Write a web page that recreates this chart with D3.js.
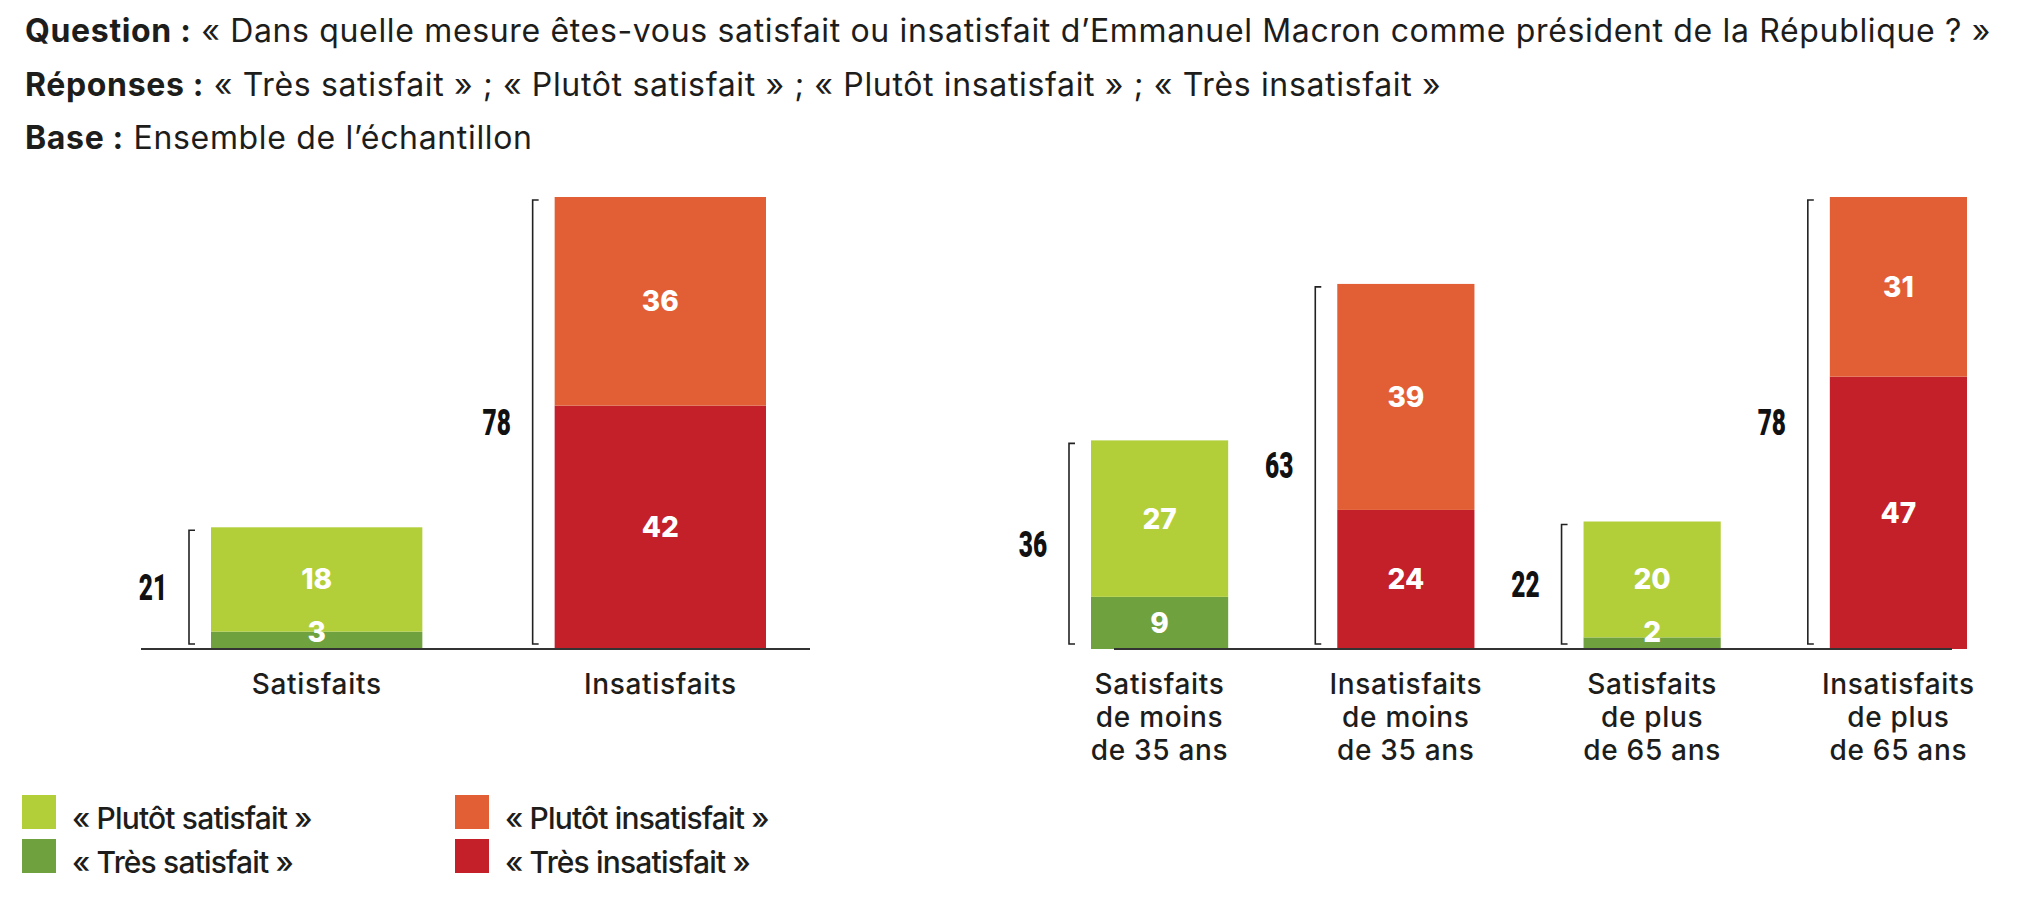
<!DOCTYPE html>
<html>
<head>
<meta charset="utf-8">
<script src="https://cdn.jsdelivr.net/npm/d3@7"></script>
<style>
  body { margin: 0; background: #fff; }
  svg { display: block; font-family: Inter, 'Open Sans', sans-serif; }
</style>
</head>
<body>
<svg width="2038" height="898"></svg>
<script>
'use strict'

// title lines: [bold part, regular part]
const titleLines = [
  ['Question :', ' « Dans quelle mesure êtes-vous satisfait ou insatisfait d’Emmanuel Macron comme président de la République ? »'],
  ['Réponses :', ' « Très satisfait » ; « Plutôt satisfait » ; « Plutôt insatisfait » ; « Très insatisfait »'],
  ['Base :', ' Ensemble de l’échantillon']
]

// left panel
const leftCats = ['Satisfaits', 'Insatisfaits']
const leftTres = [3, 42]
const leftPlutot = [18, 36]
const leftTotal = [21, 78]
const leftKind = ['sat', 'insat']

// right panel
const rightCats = [
  ['Satisfaits', 'de moins', 'de 35 ans'],
  ['Insatisfaits', 'de moins', 'de 35 ans'],
  ['Satisfaits', 'de plus', 'de 65 ans'],
  ['Insatisfaits', 'de plus', 'de 65 ans']
]
const rightTres = [9, 24, 2, 47]
const rightPlutot = [27, 39, 20, 31]
const rightTotal = [36, 63, 22, 78]
const rightKind = ['sat', 'insat', 'sat', 'insat']

const legendLabels = ['« Plutôt satisfait »', '« Très satisfait »', '« Plutôt insatisfait »', '« Très insatisfait »']

const colors = {
  sat: { tres: '#6fa13f', plutot: '#b2cf3a' },
  insat: { tres: '#c4202a', plutot: '#e25f36' }
}
const legendColors = ['#b2cf3a', '#6fa13f', '#e25f36', '#c4202a']

const svg = d3.select('svg')
const ink = '#1d1d1b'

// fit letter-spacing so a text element reaches a target width
function fitWidth(sel, target) {
  const node = sel.node()
  const w = node.getComputedTextLength()
  const n = node.textContent.length
  const ls = (target - w) / n
  sel.attr('letter-spacing', ls)
  return ls
}

// ---- title
const title = svg.append('g').attr('class', 'title')
const baselines = [42, 96, 149]
let titleSpacing = 0
titleLines.forEach((line, i) => {
  const t = title.append('text')
    .attr('x', 25)
    .attr('y', baselines[i])
    .attr('font-size', 32)
    .attr('fill', ink)
  t.append('tspan').attr('font-weight', 700).text(line[0])
  t.append('tspan').attr('font-weight', 400).text(line[1])
  if (i === 0) titleSpacing = fitWidth(t, 1966)
  else t.attr('letter-spacing', titleSpacing)
})

// ---- shared value scale
const y = d3.scaleLinear().domain([0, 78]).range([649, 197])

// letter spacing for category labels, from "Satisfaits" ~130px wide
const probe = svg.append('text').attr('font-size', 28).attr('font-weight', 500).text('Satisfaits')
const labelSpacing = (130 - probe.node().getComputedTextLength()) / 10
probe.remove()

function drawPanel(cats, tres, plutot, totals, kinds, range, padding, axisFrom, axisTo) {
  const idx = d3.range(cats.length)
  const x = d3.scaleBand().domain(idx).range(range).paddingInner(padding).paddingOuter(0)
  const bw = x.bandwidth()

  const rows = idx.map(i => ({ i: i, tres: tres[i], plutot: plutot[i] }))
  const series = d3.stack().keys(['tres', 'plutot'])(rows)

  const g = svg.append('g')

  series.forEach(s => {
    const key = s.key
    g.append('g').selectAll('rect').data(s).join('rect')
      .attr('x', d => x(d.data.i))
      .attr('y', d => y(d[1]))
      .attr('width', bw)
      .attr('height', d => y(d[0]) - y(d[1]))
      .attr('fill', d => colors[kinds[d.data.i]][key])
  })

  // axis line
  g.append('line')
    .attr('x1', axisFrom(x, bw))
    .attr('x2', axisTo(x, bw))
    .attr('y1', y(0))
    .attr('y2', y(0))
    .attr('stroke', '#333')
    .attr('stroke-width', 2)

  // segment values, kept above the base line for thin segments
  series.forEach(s => {
    const key = s.key
    g.append('g').selectAll('text').data(s).join('text')
      .attr('x', d => x(d.data.i) + bw / 2)
      .attr('y', d => Math.min((y(d[0]) + y(d[1])) / 2 + 10, y(0) - 7))
      .attr('text-anchor', 'middle')
      .attr('font-size', 28)
      .attr('font-weight', 800)
      .attr('fill', '#fff')
      .text(d => d.data[key])
  })

  // brackets with totals
  idx.forEach(i => {
    const bx = x(i) - 22
    const top = y(totals[i]) + 3
    const bot = y(0) - 5
    g.append('path')
      .attr('d', `M${bx + 6},${top}H${bx}V${bot}H${bx + 6}`)
      .attr('fill', 'none')
      .attr('stroke', '#222')
      .attr('stroke-width', 1.6)
    g.append('text')
      .attr('transform', `translate(${bx - 36},${(top + bot) / 2 + 13}) scale(0.68,1)`)
      .attr('text-anchor', 'middle')
      .attr('font-family', 'Roboto, sans-serif')
      .attr('font-size', 36)
      .attr('font-weight', 900)
      .attr('fill', '#111')
      .text(totals[i])
  })

  // category labels
  idx.forEach(i => {
    const lines = Array.isArray(cats[i]) ? cats[i] : [cats[i]]
    lines.forEach((l, j) => {
      g.append('text')
        .attr('x', x(i) + bw / 2)
        .attr('y', 694 + j * 33)
        .attr('text-anchor', 'middle')
        .attr('font-size', 28)
        .attr('font-weight', 500)
        .attr('letter-spacing', labelSpacing)
        .attr('fill', ink)
        .text(l)
    })
  })
}

drawPanel(leftCats, leftTres, leftPlutot, leftTotal, leftKind,
  [211, 766], 0.385,
  (x, bw) => x(0) - 70, (x, bw) => x(1) + bw + 44)

drawPanel(rightCats, rightTres, rightPlutot, rightTotal, rightKind,
  [1091, 1967], 0.443,
  (x, bw) => x(0) + 23, (x, bw) => x(3) + bw - 15)

// ---- legend
const legend = svg.append('g')
const legX = [22, 22, 455, 455]
const legY = [795, 839, 795, 839]
let legSpacing = null
legendLabels.forEach((label, i) => {
  legend.append('rect')
    .attr('x', legX[i])
    .attr('y', legY[i])
    .attr('width', 34)
    .attr('height', 34)
    .attr('fill', legendColors[i])
  const t = legend.append('text')
    .attr('x', legX[i] + 50)
    .attr('y', legY[i] + 34)
    .attr('font-size', 30)
    .attr('font-weight', 500)
    .attr('fill', ink)
    .text(label)
  if (legSpacing === null && i === 1) legSpacing = fitWidth(t, 221)
})
legend.selectAll('text').attr('letter-spacing', legSpacing)
</script>
</body>
</html>
